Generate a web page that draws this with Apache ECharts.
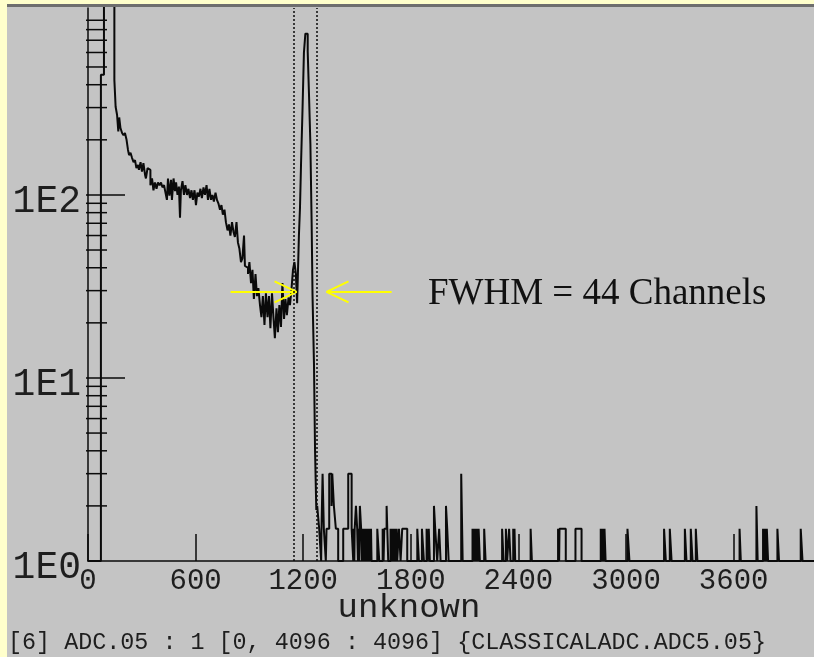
<!DOCTYPE html>
<html>
<head>
<meta charset="utf-8">
<script src="https://cdn.jsdelivr.net/npm/echarts@6/dist/echarts.min.js"></script>
<style>
  html, body { margin: 0; padding: 0; background: #c4c4c4; }
  #chart { width: 814px; height: 657px; }
</style>
</head>
<body>
<div id="chart"></div>
<script>
// ADC spectrum: counts per channel, log scale
const channelMax = 4096;
const xTickStep = 600;
const yLabelDecades = [1, 10, 100];

// [channel, counts] — each level holds until the next channel
const riseCounts = [[0, 1], [72, 453], [89, 3000]];

const continuumCounts = [
  [147, 425], [154, 303], [162, 274], [169, 222], [174, 265], [181, 232], [190, 218], [198, 212],
  [206, 218], [215, 200], [223, 176], [229, 165], [237, 170], [245, 160], [254, 151], [262, 155],
  [270, 140], [279, 146], [284, 137], [293, 151], [301, 134], [309, 149], [318, 129], [323, 123],
  [332, 140], [340, 137], [348, 113], [357, 123], [365, 106], [373, 117], [382, 108], [390, 117],
  [399, 113], [407, 117], [415, 110], [424, 113], [432, 103], [440, 94], [446, 123], [454, 99],
  [463, 121], [468, 94], [477, 123], [485, 105], [491, 117], [499, 100], [507, 111], [513, 75],
  [518, 106], [527, 119], [535, 100], [543, 113], [552, 100], [560, 108], [569, 96], [577, 106],
  [585, 94], [594, 106], [602, 88], [610, 103], [619, 98], [627, 108], [635, 96], [644, 110],
  [652, 100], [661, 113], [669, 94], [677, 108], [686, 94], [694, 100], [702, 92], [711, 103],
  [719, 94], [727, 90], [736, 83], [744, 88], [752, 78], [761, 83], [769, 71], [778, 64],
  [786, 69], [794, 60], [803, 71], [811, 63], [819, 59], [828, 71], [836, 55], [844, 51],
  [853, 43], [861, 45], [870, 60], [875, 41], [883, 40], [892, 37], [900, 43], [909, 33],
  [917, 39], [925, 27], [934, 37], [942, 28], [950, 31], [959, 25], [967, 21.5], [975, 28],
  [984, 19.5], [992, 29], [1001, 21.5], [1009, 28], [1017, 18.7], [1026, 29], [1034, 21.5], [1042, 16.5],
  [1051, 24], [1059, 17.8], [1067, 25], [1076, 19], [1084, 33], [1093, 21], [1101, 27], [1109, 22],
  [1118, 27.5], [1126, 25], [1134, 30], [1143, 39], [1151, 43], [1159, 37], [1166, 25.6]
];

const peakCounts = [
  [1176, 60], [1182, 85], [1188, 150], [1196, 290], [1204, 600], [1212, 760], [1225, 610],
  [1232, 360], [1240, 190], [1247, 70], [1252, 28], [1260, 12], [1266, 4], [1273, 1.9]
];

const tailCounts = [
  [1278, 2], [1289, 1.5], [1300, 1], [1302, 1.5], [1308, 3], [1315, 1.5], [1326, 1], [1330, 1.5],
  [1345, 3], [1358, 2], [1362, 3], [1371, 2], [1382, 1.5], [1395, 1], [1423, 1.5], [1451, 3],
  [1470, 1.5], [1479, 1], [1481, 1.5], [1485, 1], [1487, 1.5], [1494, 2], [1501, 1.5], [1505, 1],
  [1508, 1.5], [1512, 1], [1514, 1.5], [1516, 2], [1523, 1.5], [1527, 1], [1530, 1.5], [1534, 1],
  [1537, 1.5], [1541, 1], [1544, 1.5], [1548, 1], [1551, 1.5], [1555, 1], [1558, 1.5], [1562, 1],
  [1565, 1.5], [1569, 1], [1572, 1.5], [1576, 1], [1578, 1.5], [1581, 1],
  [1613, 1.5], [1624, 1], [1643, 1.5], [1648, 1], [1652, 1.5], [1665, 2], [1674, 1],
  [1687, 1.5], [1691, 1], [1694, 1.5], [1698, 1], [1701, 1.5], [1705, 1], [1708, 1.5], [1712, 1],
  [1715, 1.5], [1719, 1], [1721, 1.5], [1724, 1], [1734, 1.5], [1743, 1], [1752, 1.5], [1780, 1],
  [1836, 1.5], [1845, 1], [1862, 1.5], [1873, 1], [1888, 1.5], [1894, 1], [1900, 1.5], [1906, 1],
  [1929, 2], [1936, 1.5], [1947, 1], [1958, 1.5], [1966, 1], [1996, 2], [2003, 1.5], [2011, 1],
  [2081, 3], [2089, 1],
  [2144, 1.5], [2147, 1], [2150, 1.5], [2154, 1], [2157, 1.5], [2161, 1], [2164, 1.5], [2168, 1],
  [2171, 1.5], [2175, 1], [2178, 1.5], [2185, 1], [2209, 1.5], [2217, 1],
  [2309, 1.5], [2317, 1], [2330, 1.5], [2337, 1], [2348, 1.5], [2356, 1], [2371, 1.5], [2375, 1],
  [2378, 1.5], [2382, 1], [2468, 1.5], [2475, 1],
  [2621, 1.5], [2627, 1], [2629, 1.5], [2664, 1], [2718, 1.5], [2752, 1],
  [2859, 1.5], [2863, 1], [2866, 1.5], [2870, 1], [2873, 1.5], [2877, 1], [2880, 1.5], [2886, 1],
  [3008, 1.5], [3019, 1], [3212, 1.5], [3222, 1], [3244, 1.5], [3254, 1], [3328, 1.5], [3337, 1],
  [3361, 1.5], [3371, 1], [3389, 1.5], [3398, 1], [3633, 1.5], [3640, 1], [3727, 2], [3734, 1],
  [3764, 1.5], [3768, 1], [3771, 1.5], [3775, 1], [3778, 1.5], [3782, 1], [3785, 1.5], [3792, 1],
  [3844, 1.5], [3853, 1], [3974, 1.5], [3984, 1], [4096, 1]
];

// gate markers around the photopeak
const gateChannels = [1145, 1275];
// FWHM arrows: [tip channel, counts level, tail channel]
const fwhmArrows = [[1163, 29.5, 795], [1330, 29.5, 1693]];
const fwhmText = 'FWHM = 44 Channels';

// log-axis tick marks drawn inside the plot
const yMajorTicks = [10, 100];
const yMinorTicks = [2, 3, 4, 5, 6, 7, 8, 9, 20, 30, 40, 50, 60, 70, 80, 90,
                     200, 300, 400, 500, 600, 700, 800, 900];

const xAxisName = 'unknown';
const footerText = '[6] ADC.05 : 1 [0, 4096 : 4096] {CLASSICALADC.ADC5.05}';

const histogram = riseCounts.concat(continuumCounts, peakCounts, tailCounts);
const ink = '#0a0a0a';
const textInk = '#1e1e1e';
const mono = '"Liberation Mono", "DejaVu Sans Mono", monospace';

const chart = echarts.init(document.getElementById('chart'));

chart.setOption({
  backgroundColor: '#c4c4c4',
  animation: false,
  grid: {
    left: 88, top: 8, width: 734.6, height: 553,
    containLabel: false, outerBoundsMode: 'none'
  },
  xAxis: {
    type: 'value', min: 0, max: channelMax, interval: xTickStep,
    axisLine: { lineStyle: { color: ink, width: 1.5 } },
    axisTick: { inside: true, length: 27, lineStyle: { color: ink, width: 1.5 } },
    splitLine: { show: false },
    axisLabel: {
      fontFamily: mono, fontSize: 29, color: textInk, margin: 6,
      showMaxLabel: false,
      formatter: function (v) { return String(v); }
    }
  },
  yAxis: {
    type: 'log', logBase: 10, min: 1, max: 1050,
    axisLine: { show: true, lineStyle: { color: ink, width: 1.5 } },
    axisTick: { show: false },
    minorTick: { show: false },
    splitLine: { show: false },
    axisLabel: {
      fontFamily: mono, fontSize: 38, color: textInk, margin: 7,
      verticalAlign: 'top', lineHeight: 14,
      showMaxLabel: false,
      formatter: function (v) {
        const e = Math.round(Math.log10(v));
        const p = Math.pow(10, e);
        return (Math.abs(v - p) < 1e-6 * p && yLabelDecades.indexOf(p) >= 0) ? '1E' + e : '';
      }
    }
  },
  series: [
    {
      type: 'line',
      step: 'end',
      data: histogram,
      symbol: 'none',
      lineStyle: { color: ink, width: 2 },
      z: 2,
      markLine: {
        silent: true,
        symbol: 'none',
        label: { show: false },
        lineStyle: { type: [2, 2], color: ink, width: 1.5 },
        data: gateChannels.map(function (c) { return { xAxis: c }; })
      }
    },
    {
      type: 'custom',
      silent: true,
      clip: false,
      z: 3,
      data: yMinorTicks.concat(yMajorTicks).map(function (v) { return [0, v]; }),
      renderItem: function (params, api) {
        const v = api.value(1);
        const p = api.coord([0, v]);
        const major = yMajorTicks.indexOf(v) >= 0;
        return {
          type: 'line',
          shape: { x1: p[0] - 2, y1: p[1], x2: p[0] + (major ? 37 : 19), y2: p[1] },
          style: { stroke: ink, lineWidth: 1.5 }
        };
      }
    },
    {
      type: 'custom',
      silent: true,
      clip: false,
      z: 4,
      data: fwhmArrows,
      renderItem: function (params, api) {
        const tip = api.coord([api.value(0), api.value(1)]);
        const tail = api.coord([api.value(2), api.value(1)]);
        const dir = tail[0] < tip[0] ? -1 : 1;
        const st = { stroke: '#ffff00', lineWidth: 2 };
        return {
          type: 'group',
          children: [
            { type: 'line', shape: { x1: tail[0], y1: tail[1], x2: tip[0], y2: tip[1] }, style: st },
            { type: 'line', shape: { x1: tip[0], y1: tip[1], x2: tip[0] + dir * 22, y2: tip[1] - 10.5 }, style: st },
            { type: 'line', shape: { x1: tip[0], y1: tip[1], x2: tip[0] + dir * 22, y2: tip[1] + 10.5 }, style: st }
          ]
        };
      }
    }
  ],
  graphic: [
    { type: 'rect', left: 0, top: 0, shape: { width: 814, height: 4 }, style: { fill: '#ffffcc' }, z: 10 },
    { type: 'rect', left: 7, top: 4, shape: { width: 807, height: 3 }, style: { fill: '#6e6e6e' }, z: 10 },
    { type: 'rect', left: 0, top: 0, shape: { width: 7, height: 657 }, style: { fill: '#ffffcc' }, z: 10 },
    {
      type: 'text', left: 428, top: 276, z: 10,
      style: { text: fwhmText, font: '37px "Liberation Serif", "Times New Roman", serif', fill: '#111' }
    },
    {
      type: 'text', x: 409, y: 608, z: 10,
      style: { text: xAxisName, font: '34px ' + mono, fill: textInk, align: 'center', verticalAlign: 'middle' }
    },
    {
      type: 'text', x: 8, y: 643, z: 10,
      style: { text: footerText, font: '23.4px ' + mono, fill: textInk, align: 'left', verticalAlign: 'middle' }
    }
  ]
});
</script>
</body>
</html>
